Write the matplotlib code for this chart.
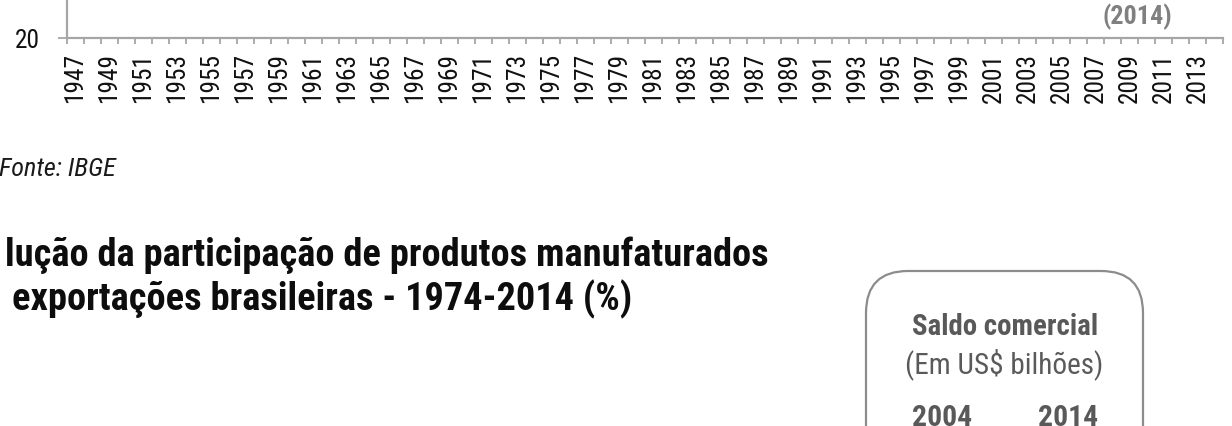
import numpy as np
import matplotlib
matplotlib.use("Agg")
import matplotlib.pyplot as plt
from matplotlib import font_manager as fm
from matplotlib.font_manager import FontProperties
from matplotlib.patches import FancyBboxPatch
from matplotlib.transforms import IdentityTransform

# ---- data ----
years = list(range(1947, 2015))
tick_labels = [str(y) for y in years[::2]]
y_ticks = [20]
source = "Fonte: IBGE"
title_lines = ["lução da participação de produtos manufaturados",
               "exportações brasileiras - 1974-2014 (%)"]
annot = "(2014)"
box_title = "Saldo comercial"
box_unit = "(Em US$ bilhões)"
box_years = ["2004", "2014"]

W, H = 1232, 427


def _is_bold(f):
    w = f.weight
    if isinstance(w, str):
        return w.lower() in ("bold", "heavy", "black", "extra bold", "semibold", "demibold", "demi")
    return w >= 600


def _is_italic(f):
    return f.style in ("italic", "oblique")


def get_font(bold=False, italic=False):
    cands = []
    for f in fm.fontManager.ttflist:
        nm = f.name.lower()
        fn = f.fname.lower()
        condensed = ("narrow" in nm or "condensed" in nm or "narrow" in fn
                     or "condensed" in fn or str(f.stretch) in ("condensed", "semi-condensed", "extra-condensed"))
        if not condensed:
            continue
        if "mono" in nm or "serif" in nm and "sans" not in nm:
            continue
        if _is_bold(f) != bold or _is_italic(f) != italic:
            continue
        rank = 9
        for i, key in enumerate(["liberation sans narrow", "roboto condensed", "open sans condensed",
                                 "noto sans", "dejavu sans"]):
            if key in nm:
                rank = i
                break
        cands.append((rank, f.fname))
    if cands:
        cands.sort()
        return FontProperties(fname=cands[0][1])
    for fam in ["Liberation Sans", "Roboto", "DejaVu Sans"]:
        try:
            fm.findfont(FontProperties(family=fam), fallback_to_default=False)
            return FontProperties(family=fam, weight="bold" if bold else "normal",
                                  style="italic" if italic else "normal")
        except Exception:
            continue
    return FontProperties(weight="bold" if bold else "normal")


F_REG = get_font(False, False)
F_BOLD = get_font(True, False)
F_IT = get_font(False, True)

fig = plt.figure(figsize=(W / 100, H / 100), dpi=100)
renderer = fig.canvas.get_renderer()


def fx(x):
    return x / W


def fy(y):
    return 1 - y / H


def fit(t, width_px):
    w = t.get_window_extent(renderer).width
    t.set_fontsize(t.get_fontsize() * width_px / w)
    return t


def size_for(text, fp, width_px):
    t = fig.text(0, 0, text, fontproperties=fp, fontsize=10)
    w = t.get_window_extent(renderer).width
    t.remove()
    return 10 * width_px / w


# ---- axes (bottom part of a line chart) ----
axis_y = 39
x0, x1 = 66.5, 1223
ax = fig.add_axes([fx(x0), fy(axis_y), (x1 - x0) / W, 0.6])
ax.set_xlim(-0.5, len(years) - 0.5)
ax.set_ylim(20, 100)
gray = "#a6a6a6"
for s in ["top", "right"]:
    ax.spines[s].set_visible(False)
for s in ["left", "bottom"]:
    ax.spines[s].set_color(gray)
    ax.spines[s].set_linewidth(1.6)

lab_size = size_for("1947", F_REG, 50)
ax.set_yticks(y_ticks)
ax.set_yticklabels([str(v) for v in y_ticks], fontproperties=F_REG)
ax.tick_params(axis="y", length=6.5, width=1.3, color=gray, pad=13,
               labelsize=lab_size, labelcolor="#111111")

pos = np.arange(len(years))
ax.set_xticks(pos[::2])
ax.set_xticklabels(tick_labels, rotation=90, fontproperties=F_REG)
ax.set_xticks(np.arange(-0.5, len(years)), minor=True)
ax.tick_params(axis="x", which="major", length=0, pad=10, labelsize=lab_size,
               labelcolor="#111111")
ax.tick_params(axis="x", which="minor", length=4.5, width=1.3, color=gray)
ax.patch.set_visible(False)

# ---- annotation ----
t = fig.text(fx(1137), fy(17), annot, ha="center", va="center",
             fontproperties=F_BOLD, color="#808080", fontsize=20)
fit(t, 70)

# ---- source ----
t = fig.text(fx(-1), fy(176), source, ha="left", va="baseline",
             fontproperties=F_IT, color="#1a1a1a", fontsize=20)
fit(t, 117)

# ---- title ----
t1 = fig.text(fx(5), fy(266), title_lines[0], ha="left", va="baseline",
              fontproperties=F_BOLD, color="#0d0d0d", fontsize=28)
fit(t1, 763)
t2 = fig.text(fx(12), fy(310), title_lines[1], ha="left", va="baseline",
              fontproperties=F_BOLD, color="#0d0d0d", fontsize=t1.get_fontsize())

# ---- rounded box ----
bx0, bx1, by_top = 866, 1143, 272
box = FancyBboxPatch((bx0, H - 700), bx1 - bx0, 700 - by_top,
                     boxstyle="round,pad=0,rounding_size=42",
                     transform=IdentityTransform(), facecolor="white",
                     edgecolor="#8c8c8c", linewidth=1.6)
fig.patches.append(box)

cx = (bx0 + bx1) / 2
t = fig.text(fx(cx + 1), fy(335), box_title, ha="center", va="baseline",
             fontproperties=F_BOLD, color="#595959", fontsize=22)
fit(t, 186)
t = fig.text(fx(cx), fy(373), box_unit, ha="center", va="baseline",
             fontproperties=F_REG, color="#5a5a5a", fontsize=22)
fit(t, 198)
for x, lab in zip([942, 1068], box_years):
    t = fig.text(fx(x), fy(426), lab, ha="center", va="baseline",
                 fontproperties=F_BOLD, color="#595959", fontsize=22)
    fit(t, 60)

fig.savefig("out.png", dpi=100)
